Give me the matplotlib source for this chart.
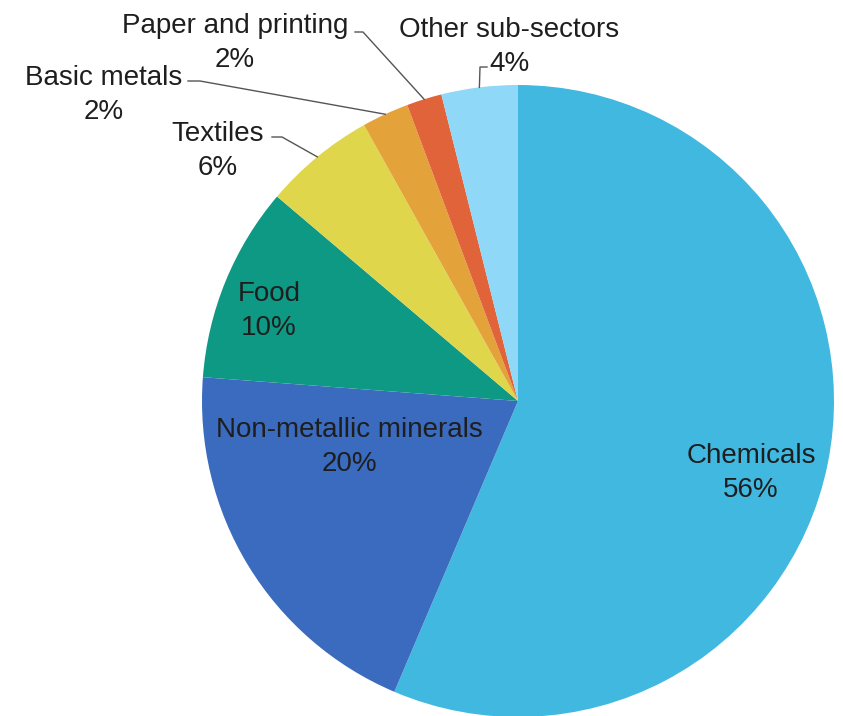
import numpy as np
import matplotlib
matplotlib.use("Agg")
import matplotlib.pyplot as plt

plt.rcParams['font.family'] = ['Liberation Sans', 'DejaVu Sans']

# share of each sub-sector and the printed labels
sectors = ["Chemicals", "Non-metallic minerals", "Food", "Textiles",
           "Basic metals", "Paper and printing", "Other sub-sectors"]
shares = [56.4, 19.8, 10.0, 5.7, 2.4, 1.8, 3.9]
pct_labels = ["56%", "20%", "10%", "6%", "2%", "2%", "4%"]
colors = ["#41b8e0", "#3a6bbf", "#0e9985", "#e0d64b", "#e3a23a", "#e0633a", "#8fd8f7"]

W, H = 843, 716
CX, CY, R = 518, 401, 316   # pie centre / radius in pixels


def px(x, y):
    # pixel position -> data coords of the pie axes
    return (x - CX) / R, (CY - y) / R


fig = plt.figure(figsize=(W / 100, H / 100), dpi=100)
ax = fig.add_axes([(CX - R) / W, (H - CY - R) / H, 2 * R / W, 2 * R / H])

wedges, _ = ax.pie(shares, colors=colors, startangle=90, counterclock=False,
                   radius=1, center=(0, 0), wedgeprops=dict(linewidth=0))

# pie() resets the limits to +-1.25, put them back
ax.set_xlim(-1, 1)
ax.set_ylim(-1, 1)
ax.set_aspect("equal")
ax.axis("off")

# label centres (pixels); inside labels have no leader
label_pos = {
    "Chemicals": (751, 473),
    "Non-metallic minerals": (349, 447),
    "Food": (269, 311),
    "Textiles": (218, 151),
    "Basic metals": (104, 95),
    "Paper and printing": (235, 43),
    "Other sub-sectors": (509, 47),
}
leader_start = {
    "Textiles": [(272, 137), (282, 137)],
    "Basic metals": [(188, 81), (200, 81)],
    "Paper and printing": [(355, 32), (363, 32)],
    "Other sub-sectors": [(487, 67), (480, 67)],
}

txt_kw = dict(ha="center", va="center", fontsize=20, color="#1e1e1e",
              linespacing=1.4, clip_on=False)

for w, name, pct in zip(wedges, sectors, pct_labels):
    x, y = px(*label_pos[name])
    ax.text(x, y, f"{name}\n{pct}", **txt_kw)
    if name in leader_start:
        mid = np.deg2rad((w.theta1 + w.theta2) / 2)
        pts = [px(*p) for p in leader_start[name]]
        pts.append((np.cos(mid), np.sin(mid)))
        xs, ys = zip(*pts)
        ax.plot(xs, ys, color="#555555", lw=1, clip_on=False)

fig.savefig("out.png", dpi=100, facecolor="white")
